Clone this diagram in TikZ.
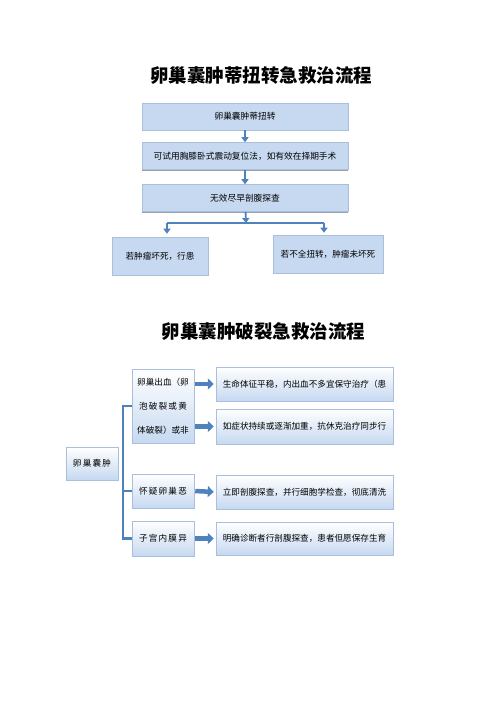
\documentclass[tikz,border=0pt]{standalone}
\usepackage{fontspec}
\usepackage{tikz}
\usetikzlibrary{arrows.meta,positioning,shadows}
\newfontfamily\cjk{Noto Sans CJK SC}
\newfontfamily\cjkwide{Noto Sans CJK SC}[LetterSpace=14]
\definecolor{Steel}{HTML}{4F81BD}
\definecolor{Pale}{HTML}{C6D9F1}
\definecolor{Edge}{HTML}{A9BFDC}
\definecolor{Shade}{HTML}{8C98A8}
\tikzset{
  title/.style={font=\cjk\bfseries\fontsize{18.5}{22}\selectfont},
  stage/.style={draw=Edge,fill=Pale,line width=0.5pt,minimum width=206pt,minimum height=27pt,align=center,font=\cjk\fontsize{8.7}{10}\selectfont,drop shadow={shadow xshift=0pt,shadow yshift=-1.3pt,fill=Shade,opacity=0.9}},
  outcome/.style={draw=Edge,fill=Pale,line width=0.5pt,minimum height=38pt,align=center,font=\cjk\fontsize{8.6}{10}\selectfont,drop shadow={shadow xshift=1pt,shadow yshift=-1.3pt,fill=Shade,opacity=0.7}},
  branch/.style={draw=Edge,top color=white,bottom color=Pale,line width=0.5pt,align=center,font=\cjk\fontsize{8.6}{24}\selectfont,drop shadow={shadow xshift=1.2pt,shadow yshift=-1.2pt,fill=Shade,opacity=0.6}},
  line/.style={-{Triangle[length=5pt,width=7pt]},line width=1.8pt,draw=Steel},
  bracket/.style={line width=2.2pt,draw=Steel},
  block/.style={-{Triangle[length=6pt,width=11pt]},line width=4.5pt,draw=Steel,shorten >=2pt,shorten <=1pt}
}
\begin{document}
\begin{tikzpicture}[x=1pt,y=-1pt]
  \useasboundingbox (0,0) rectangle (500,708);
  % torsion
  \node[title] (torsiontitle) at (261,76) {卵巢囊肿蒂扭转急救治流程};
  \node[stage] (twist) at (245,116.5) {卵巢囊肿蒂扭转};
  \node[stage] (reset) at (245,156) {可试用胸膝卧式震动复位法，如有效在择期手术};
  \node[stage] (explore) at (245,198) {无效尽早剖腹探查};
  \node[outcome,minimum width=96pt] (necrosis) at (160,256) {若肿瘤坏死，行患};
  \node[outcome,minimum width=110pt] (partial) at (328,254) {若不全扭转，肿瘤未坏死};
  \coordinate (split) at (246,223);
  \coordinate (lturn) at (167,223);
  \coordinate (rturn) at (324,223);
  \draw[line] (twist) -- (reset);
  \draw[line] (reset) -- (explore);
  \draw[line] (explore) -- (split);
  \draw[bracket,line width=1.8pt] (lturn) -- (rturn);
  \draw[line,shorten >=3pt] (lturn) -- (lturn |- necrosis.north);
  \draw[line,shorten >=2pt] (rturn) -- (rturn |- partial.north);
  % rupture
  \node[title] (rupturetitle) at (263.5,332) {卵巢囊肿破裂急救治流程};
  \node[branch,minimum width=52pt,minimum height=33pt] (cyst) at (92,463.5) {\cjkwide 卵巢囊肿};
  \node[branch,minimum width=62pt,minimum height=74pt] (bleed) at (163,406) {卵巢出血（卵\\{\cjkwide 泡破裂或黄}\\体破裂）或非};
  \node[branch,minimum width=62pt,minimum height=34pt] (malign) at (163,491) {\cjkwide 怀疑卵巢恶};
  \node[branch,minimum width=62pt,minimum height=35pt] (endo) at (163,538.5) {\cjkwide 子宫内膜异};
  \node[branch,minimum width=177pt,minimum height=34pt] (stable) at (304.5,384) {生命体征平稳，内出血不多宜保守治疗（患};
  \node[branch,minimum width=177pt,minimum height=35pt] (worse) at (304.5,426.5) {如症状持续或逐渐加重，抗休克治疗同步行};
  \node[branch,minimum width=177pt,minimum height=34pt] (lavage) at (304.5,492) {立即剖腹探查，并行细胞学检查，彻底清洗};
  \node[branch,minimum width=177pt,minimum height=33pt] (fertile) at (304.5,538.5) {明确诊断者行剖腹探查，患者但愿保存生育};
  \coordinate (spine) at (123,463);
  \draw[bracket] (bleed.west) -| (spine |- endo.west) -- (endo.west);
  \draw[bracket] (spine |- malign.west) -- (malign.west);
  \draw[block] (bleed.east |- stable.west) -- (stable.west);
  \draw[block] (bleed.east |- worse.west) -- (worse.west);
  \draw[block] (malign.east) -- (lavage.west);
  \draw[block] (endo.east) -- (fertile.west);
\end{tikzpicture}
\end{document}
